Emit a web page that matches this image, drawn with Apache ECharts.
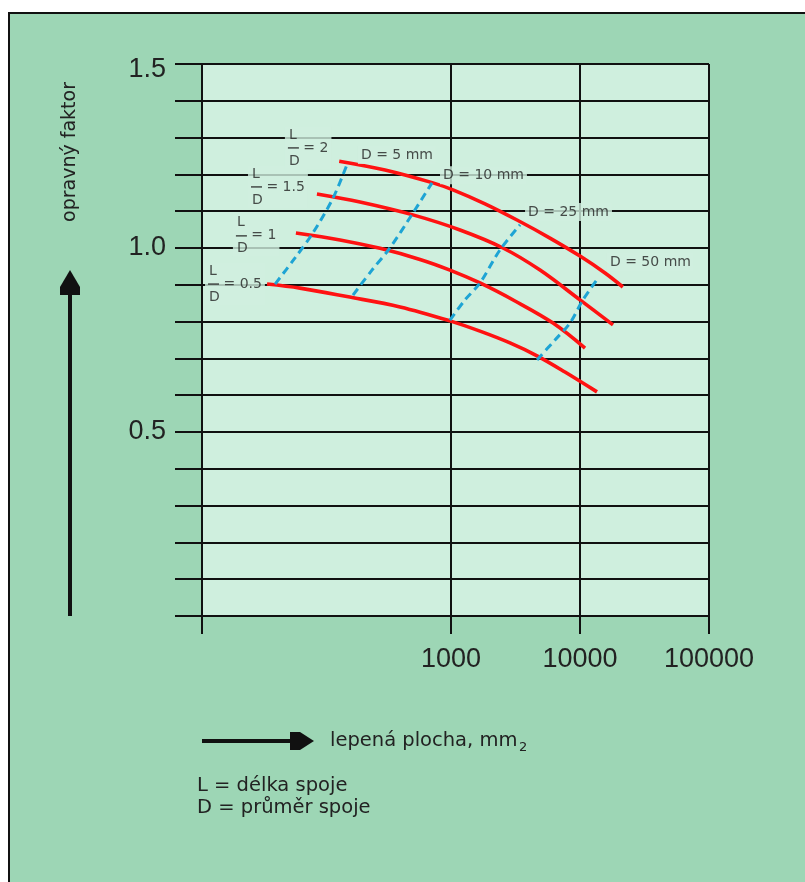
<!DOCTYPE html>
<html><head><meta charset="utf-8">
<script src="https://cdn.jsdelivr.net/npm/echarts@6/dist/echarts.min.js"></script>
<style>
html,body{margin:0;padding:0;background:#fff;}
#frame{position:absolute;left:8px;top:12px;width:797px;height:870px;background:#9dd6b5;border-left:2px solid #111;border-top:2px solid #111;box-sizing:border-box;}
#chart{position:absolute;left:0;top:0;width:805px;height:882px;}
</style></head><body>
<div id="frame"></div><div id="chart"></div>
<script>
// ---- data (bonded area in mm2, correction factor) ----
const ld05Area = [37.5, 67.5, 156, 403, 982, 1678, 2865, 4645, 7650, 13550];
const ld05F    = [0.902, 0.891, 0.868, 0.840, 0.802, 0.774, 0.742, 0.707, 0.663, 0.609];
const ld1Area  = [62.8, 138, 282, 575, 982, 1678, 3135, 6180, 10940];
const ld1F     = [1.041, 1.022, 0.999, 0.969, 0.940, 0.905, 0.856, 0.796, 0.728];
const ld15Area = [91.4, 197, 507, 1175, 2530, 4900, 10000, 18030];
const ld15F    = [1.147, 1.125, 1.090, 1.049, 1.000, 0.940, 0.859, 0.791];
const ld2Area  = [136, 308, 725, 1036, 1835, 3250, 5850, 10000, 15630, 21500];
const ld2F     = [1.236, 1.212, 1.177, 1.158, 1.120, 1.076, 1.027, 0.978, 0.932, 0.894];

const d5Area  = [43.3, 61.8, 85.1, 122, 156];
const d5F     = [0.902, 0.973, 1.041, 1.136, 1.226];
const d10Area = [174, 244, 336, 507, 713];
const d10F    = [0.872, 0.940, 1.000, 1.095, 1.177];
const d25Area = [982, 1284, 1678, 2400, 3430];
const d25F    = [0.804, 0.859, 0.905, 0.995, 1.063];
const d50Area = [4645, 6400, 8360, 10540, 13800];
const d50F    = [0.696, 0.750, 0.796, 0.859, 0.918];

const ldValues = ['0.5', '1', '1.5', '2'];
const dLabels  = ['D = 5 mm', 'D = 10 mm', 'D = 25 mm', 'D = 50 mm'];
const xTickLabels = [1000, 10000, 100000];
const yTickLabels = ['0.5', '1.0', '1.5'];
const xMin = 11.75, xMax = 100000;

// label anchors (data coordinates)
const ldAnchor = [[12.4, 0.902], [20.4, 1.033], [26.7, 1.166], [51.6, 1.272]];
const dAnchor  = [[190, 1.253], [822, 1.198], [3750, 1.098], [16180, 0.962]];

// ---- chart ----
const FONT_T = 'DejaVu Sans';
const FONT_N = 'Liberation Sans';
const PLOT_BG = '#cfefde';
function pts(a, f) { return a.map((v, i) => [v, f[i]]); }

const reds = [[ld05Area, ld05F], [ld1Area, ld1F], [ld15Area, ld15F], [ld2Area, ld2F]].map(([a, f]) => ({
  type: 'line', data: pts(a, f), smooth: 0.35, showSymbol: false, silent: true, z: 3,
  lineStyle: { color: '#ff1212', width: 3.6 }
}));
const blues = [[d5Area, d5F], [d10Area, d10F], [d25Area, d25F], [d50Area, d50F]].map(([a, f]) => ({
  type: 'line', data: pts(a, f), smooth: 0.3, showSymbol: false, silent: true, z: 4,
  lineStyle: { color: '#1ea4d4', width: 3, type: [8, 5] }
}));

const annData = [];
ldValues.forEach((v, i) => annData.push({
  value: ldAnchor[i],
  label: { formatter: '{n|L}\n{b| }{e| = ' + v + '}\n{n|D}' }
}));
dLabels.forEach((t, i) => annData.push({ value: dAnchor[i], label: { formatter: '{e|' + t + '}' } }));

const ann = {
  type: 'scatter', data: annData, symbolSize: 0, silent: true, z: 6,
  label: {
    show: true, position: 'right', distance: 0, backgroundColor: PLOT_BG, padding: [2, 3],
    color: '#222', fontFamily: FONT_T, fontSize: 14,
    rich: {
      n: { fontFamily: FONT_T, fontSize: 14, lineHeight: 12, color: '#222', padding: [0, 0, 0, 1] },
      b: { width: 11, height: 1.5, lineHeight: 6, backgroundColor: '#222' },
      e: { fontFamily: FONT_T, fontSize: 14, lineHeight: 14, color: '#222' }
    }
  }
};

const chart = echarts.init(document.getElementById('chart'), null, { renderer: 'canvas' });
chart.setOption({
  animation: false,
  grid: { left: 202, top: 64, width: 507, height: 552, show: true, backgroundColor: PLOT_BG, borderWidth: 0, outerBoundsMode: 'none' },
  xAxis: {
    type: 'log', logBase: 10, min: xMin, max: xMax,
    axisLine: { show: true, onZero: false, lineStyle: { color: '#111', width: 2 } },
    axisTick: { show: true, length: 18, customValues: [xMin].concat(xTickLabels), lineStyle: { color: '#111', width: 2 } },
    axisLabel: { customValues: xTickLabels, margin: 30, fontSize: 27, fontFamily: FONT_N, color: '#222',
      formatter: v => String(Math.round(v)) },
    splitLine: { show: true, lineStyle: { color: '#111', width: 2 } },
    minorTick: { show: false }, minorSplitLine: { show: false }
  },
  yAxis: {
    type: 'value', min: 0, max: 1.5, interval: 0.1,
    axisLine: { show: true, lineStyle: { color: '#111', width: 2 } },
    axisTick: { show: true, length: 27, lineStyle: { color: '#111', width: 2 } },
    axisLabel: {
      margin: 36, fontSize: 27, fontFamily: FONT_N, color: '#222',
      formatter: v => {
        const s = (Math.round(v * 10) / 10).toFixed(1);
        if (yTickLabels.indexOf(s) < 0) return '';
        return s === '1.5' ? '{t|' + s + '}' : s;
      },
      rich: { t: { fontSize: 27, fontFamily: FONT_N, color: '#222', padding: [12, 0, 0, 0] } }
    },
    splitLine: { show: true, lineStyle: { color: '#111', width: 2 } }
  },
  series: reds.concat(blues).concat([ann]),
  graphic: [
    { type: 'line', shape: { x1: 70, y1: 616, x2: 70, y2: 292 }, style: { stroke: '#111', lineWidth: 4 } },
    { type: 'polygon', shape: { points: [[70, 270], [80, 287], [80, 295], [60, 295], [60, 287]] }, style: { fill: '#111' } },
    { type: 'line', shape: { x1: 202, y1: 741, x2: 292, y2: 741 }, style: { stroke: '#111', lineWidth: 4 } },
    { type: 'polygon', shape: { points: [[290, 732], [300, 732], [314, 741], [300, 750], [290, 750]] }, style: { fill: '#111' } },
    { type: 'text', x: 70, y: 152, rotation: Math.PI / 2,
      style: { text: 'opravný faktor', font: '19px "DejaVu Sans"', fill: '#222', align: 'center', verticalAlign: 'middle', textAlign: 'center', textVerticalAlign: 'middle' } },
    { type: 'text', x: 330, y: 741,
      style: { text: 'lepená plocha, mm', font: '19.5px "DejaVu Sans"', fill: '#222', align: 'left', verticalAlign: 'middle', textAlign: 'left', textVerticalAlign: 'middle' } },
    { type: 'text', x: 519, y: 748,
      style: { text: '2', font: '13px "DejaVu Sans"', fill: '#222', align: 'left', verticalAlign: 'middle', textAlign: 'left', textVerticalAlign: 'middle' } },
    { type: 'text', x: 197, y: 786,
      style: { text: 'L = délka spoje', font: '19.5px "DejaVu Sans"', fill: '#222', align: 'left', verticalAlign: 'middle', textAlign: 'left', textVerticalAlign: 'middle' } },
    { type: 'text', x: 197, y: 808,
      style: { text: 'D = průměr spoje', font: '19.5px "DejaVu Sans"', fill: '#222', align: 'left', verticalAlign: 'middle', textAlign: 'left', textVerticalAlign: 'middle' } }
  ]
});
</script></body></html>
